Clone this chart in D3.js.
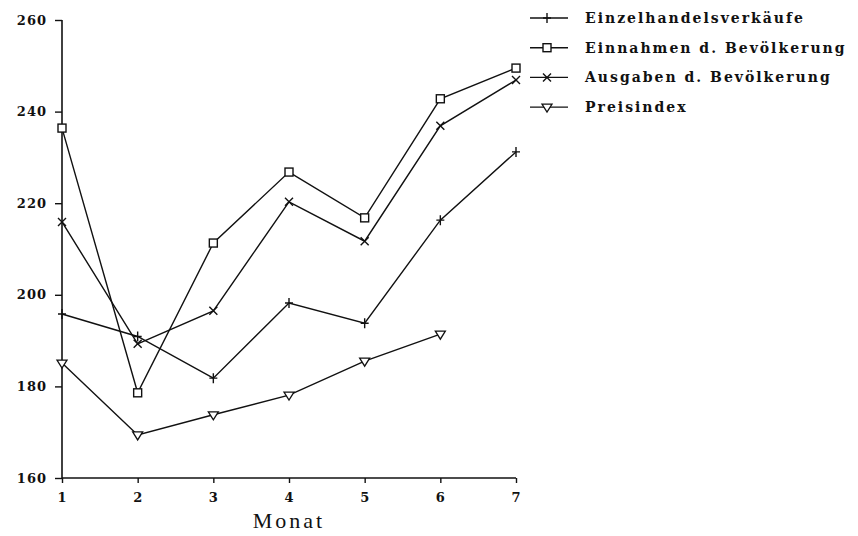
<!DOCTYPE html>
<html>
<head>
<meta charset="utf-8">
<script src="https://cdn.jsdelivr.net/npm/d3@7"></script>
<style>
    body { margin: 0; background: #fff; }
    svg text { fill: #111; }
</style>
</head>
<body>
<div id="chart"></div>
<script>
// Monthly values
const months = [1, 2, 3, 4, 5, 6, 7];
const einzelhandel = [195.8, 190.9, 181.8, 198.2, 193.8, 216.3, 231.2];
const einnahmen = [236.4, 178.6, 211.3, 226.8, 216.8, 242.8, 249.5];
const ausgaben = [215.9, 189.3, 196.5, 220.3, 211.7, 236.9, 246.9];
const preisindex = [185.1, 169.4, 173.8, 178.1, 185.5, 191.4];

const yTicks = [160, 180, 200, 220, 240, 260];
const seriesNames = ["Einzelhandelsverkäufe", "Einnahmen d. Bevölkerung", "Ausgaben d. Bevölkerung", "Preisindex"];
const seriesValues = [einzelhandel, einnahmen, ausgaben, preisindex];
const seriesMarkers = ["plus", "square", "cross", "triangle"];

const width = 858, height = 536;

const svg = d3.select("#chart")
    .append("svg")
        .attr("width", width)
        .attr("height", height);

const x = d3.scaleLinear().domain([1, 7]).range([62, 516]);
const y = d3.scaleLinear().domain([160, 260]).range([478, 20]);

// Axes
const yAxis = d3.axisLeft(y).tickValues(yTicks).tickSize(7).tickPadding(8);
const xAxis = d3.axisBottom(x).tickValues(months).tickSize(5).tickPadding(10).tickFormat(d3.format("d"));

const gy = svg.append("g")
    .attr("transform", "translate(" + x(1) + ",0)")
    .call(yAxis);
const gx = svg.append("g")
    .attr("transform", "translate(0," + y(160) + ")")
    .call(xAxis);

[gx, gy].forEach(g => {
    g.select(".domain").attr("stroke", "#111").attr("stroke-width", 1.6);
    g.selectAll(".tick line").attr("stroke", "#111").attr("stroke-width", 1.4);
    g.selectAll(".tick text")
        .attr("font-family", "'DejaVu Serif', serif")
        .attr("font-weight", "bold")
        .attr("font-size", 13)
        .attr("letter-spacing", 1)
        .attr("fill", "#111");
});
gx.select(".domain").attr("d", "M" + x(1) + ",0H" + x(7));
gy.select(".domain").attr("d", "M0," + y(160) + "V" + y(260));

svg.append("text")
    .attr("x", 289)
    .attr("y", 528)
    .attr("text-anchor", "middle")
    .attr("font-family", "'Liberation Serif', serif")
    .attr("font-size", 22)
    .attr("letter-spacing", 3)
    .text("Monat");

// Marker drawing
function drawMarker(sel, type) {
    const s = 4;
    if (type === "plus") {
        sel.append("path").attr("d", "M" + (-s) + ",0H" + s + "M0," + (-s - 1) + "V" + (s + 1))
            .attr("stroke", "#111").attr("stroke-width", 1.4);
    }
    else if (type === "cross") {
        sel.append("path").attr("d", "M" + (-s) + "," + (-s) + "L" + s + "," + s + "M" + (-s) + "," + s + "L" + s + "," + (-s))
            .attr("stroke", "#111").attr("stroke-width", 1.4);
    }
    else if (type === "square") {
        sel.append("rect").attr("x", -s).attr("y", -s).attr("width", 2 * s).attr("height", 2 * s)
            .attr("fill", "#fff").attr("stroke", "#111").attr("stroke-width", 1.4);
    }
    else {
        sel.append("path").attr("d", "M" + (-s - 1) + "," + (-s + 1) + "L" + (s + 1) + "," + (-s + 1) + "L0," + (s + 1) + "Z")
            .attr("fill", "#fff").attr("stroke", "#111").attr("stroke-width", 1.3);
    }
}

const line = d3.line()
    .x((d, i) => x(months[i]))
    .y(d => y(d));

seriesValues.forEach((vals, k) => {
    const g = svg.append("g");
    g.append("path")
        .datum(vals)
        .attr("fill", "none")
        .attr("stroke", "#111")
        .attr("stroke-width", 1.4)
        .attr("d", line);

    g.selectAll("g.mk")
        .data(vals)
        .enter()
        .append("g")
            .attr("class", "mk")
            .attr("transform", (d, i) => "translate(" + x(months[i]) + "," + y(d) + ")")
            .each(function () { drawMarker(d3.select(this), seriesMarkers[k]); });
});

// Legend
const legend = svg.append("g").attr("transform", "translate(530,18)");
seriesNames.forEach((name, k) => {
    const row = legend.append("g").attr("transform", "translate(0," + (k * 29.7) + ")");
    row.append("line")
        .attr("x1", 0).attr("x2", 38)
        .attr("stroke", "#111").attr("stroke-width", 1.4);
    drawMarker(row.append("g").attr("transform", "translate(17,0)"), seriesMarkers[k]);
    row.append("text")
        .attr("x", 55)
        .attr("y", 5)
        .attr("font-family", "'DejaVu Serif', serif")
        .attr("font-weight", "bold")
        .attr("font-size", 14)
        .attr("letter-spacing", 2)
        .text(name);
});
</script>
</body>
</html>
